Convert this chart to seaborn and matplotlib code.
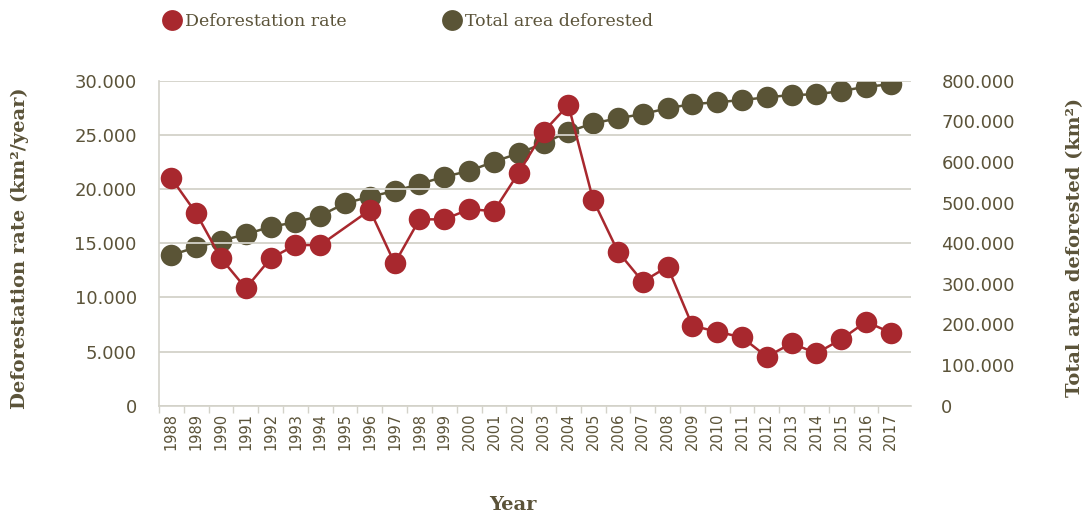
import matplotlib
matplotlib.use("Agg")
import matplotlib.pyplot as plt
from matplotlib.lines import Line2D
from matplotlib.ticker import FuncFormatter, FixedLocator
import numpy as np
import pandas as pd
import seaborn as sns

years = list(range(1988, 2018))
# 1995 has no rate point in the reference, the line goes straight from 1994 to 1996
deforestation_rate = [20990, 17760, 13600, 10840, 13600, 14830, 14830, np.nan, 18060, 13140,
                      17200, 17200, 18130, 17970, 21510, 25290, 27760, 18990, 14220, 11450,
                      12830, 7380, 6830, 6310, 4520, 5760, 4840, 6130, 7750, 6740]
total_deforested = [371000, 390000, 406200, 421900, 440600, 451400, 467700, 498200, 514500, 528500,
                    545700, 563700, 577700, 600600, 621300, 645900, 674500, 695100, 707400, 718000,
                    732100, 742600, 746800, 752500, 759100, 764800, 766500, 774600, 785200, 791100]

RED = "#A8282E"
OLIVE = "#5A5436"
TEXT = "#5B5339"
GRID = "#D3D2C9"

df = pd.DataFrame({"Year": years, "Rate": deforestation_rate, "Total": total_deforested})

sns.set_style("white")
plt.rcParams["font.family"] = ["DejaVu Sans"]

fig = plt.figure(figsize=(10.91, 5.14), dpi=100)
ax = fig.add_axes([159 / 1091, 1 - 405.7 / 514, (910.7 - 159) / 1091, 325 / 514])
ax2 = ax.twinx()

# rate on left axis, total on right axis
sns.lineplot(data=df, x="Year", y="Total", ax=ax2, color=OLIVE, linewidth=1.8,
             marker="o", markersize=15.5, markeredgewidth=0, zorder=3)
sns.lineplot(data=df, x="Year", y="Rate", ax=ax, color=RED, linewidth=1.8,
             marker="o", markersize=15.5, markeredgewidth=0, zorder=3)

# draw red on top of olive
ax.set_zorder(ax2.get_zorder() + 1)
ax.patch.set_visible(False)

ax.set_xlim(1987.5, 2017.8)
ax.set_ylim(0, 30000)
ax2.set_ylim(0, 800000)
ax.set_yticks(np.arange(0, 30001, 5000))
ax2.set_yticks(np.arange(0, 800001, 100000))

fmt = FuncFormatter(lambda v, p: f"{v:,.0f}".replace(",", "."))
ax.yaxis.set_major_formatter(fmt)
ax2.yaxis.set_major_formatter(fmt)

ax.set_xticks(years)
ax.set_xticklabels([str(y) for y in years], rotation=90)
ax.xaxis.set_minor_locator(FixedLocator(np.arange(1987.5, 2017, 1.0)))
ax.tick_params(axis="x", which="major", length=0, pad=5, labelsize=10.5, labelcolor=TEXT)
ax.tick_params(axis="x", which="minor", length=5, width=1, color=GRID, bottom=True)
ax.tick_params(axis="y", length=0, pad=16, labelsize=13, labelcolor=TEXT)
ax2.tick_params(axis="y", length=0, pad=22, labelsize=13, labelcolor=TEXT)

ax.grid(axis="y", color=GRID, linewidth=1.3)
ax.grid(axis="x", visible=False)
for a in (ax, ax2):
    for s in a.spines.values():
        s.set_visible(False)
ax.spines["left"].set_visible(True)
ax.spines["left"].set_color(GRID)
ax.spines["left"].set_linewidth(1.2)
ax.spines["bottom"].set_visible(True)
ax.spines["bottom"].set_color(GRID)
ax.spines["bottom"].set_linewidth(1.2)

ax.set_xlabel("")
ax.set_ylabel("")
ax2.set_ylabel("")

serif = ["DejaVu Serif"]
fig.text(20 / 1091, 1 - 248 / 514, "Deforestation rate (km²/year)", rotation=90,
         ha="center", va="center", fontsize=14, fontweight="bold", color=TEXT, family=serif)
fig.text(1075 / 1091, 1 - 247 / 514, "Total area deforested (km²)", rotation=90,
         ha="center", va="center", fontsize=14, fontweight="bold", color=TEXT, family=serif)
fig.text(513 / 1091, 1 - 505 / 514, "Year", ha="center", va="center",
         fontsize=14, fontweight="bold", color=TEXT, family=serif)

handles = [Line2D([], [], linestyle="none", marker="o", markersize=15, color=RED, markeredgewidth=0),
           Line2D([], [], linestyle="none", marker="o", markersize=15, color=OLIVE, markeredgewidth=0)]
fig.legend(handles, ["Deforestation rate", "Total area deforested"], ncol=2, frameon=False,
           loc="center left", bbox_to_anchor=(155 / 1091, 1 - 22 / 514), borderpad=0,
           handlelength=1.0, handletextpad=0.25, columnspacing=5.53,
           prop={"family": serif, "size": 12.5}, labelcolor=TEXT)

fig.savefig("out.png", dpi=100)
